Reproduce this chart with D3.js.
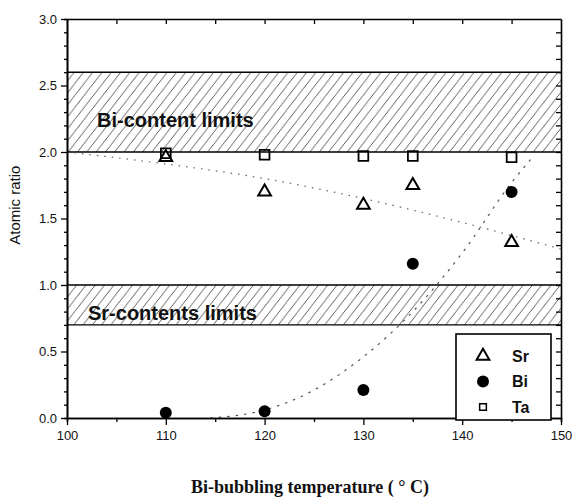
<!DOCTYPE html>
<html>
<head>
<meta charset="utf-8">
<script src="https://cdn.jsdelivr.net/npm/d3@7/dist/d3.min.js"></script>
<style>
  html, body { margin: 0; padding: 0; background: #fff; }
  svg { display: block; }
</style>
</head>
<body>
<div id="chart"></div>
<script>
const temps = [110, 120, 130, 135, 145];
const srValues = [1.96, 1.70, 1.60, 1.75, 1.32];
const biValues = [0.04, 0.05, 0.21, 1.16, 1.70];
const taValues = [1.99, 1.98, 1.97, 1.97, 1.96];

// dotted guide curves
const srFitT = [100, 110, 120, 130, 140, 150];
const srFitV = [2.0, 1.91, 1.80, 1.65, 1.47, 1.27];
const biFitT = [114.5, 120, 125, 130, 135, 140, 145, 147];
const biFitV = [0.0, 0.06, 0.21, 0.46, 0.80, 1.24, 1.77, 1.95];

// shaded limit bands
const bands = [
  {label: "Bi-content limits", lo: 2.0, hi: 2.6},
  {label: "Sr-contents limits", lo: 0.7, hi: 1.0}
];
const legendNames = ["Sr", "Bi", "Ta"];

const width = 572, height = 497;
const margin = {top: 19, right: 11, bottom: 79, left: 67};

const svg = d3.select("#chart").append("svg")
    .attr("width", width)
    .attr("height", height);

const x = d3.scaleLinear().domain([100, 150]).range([margin.left, width - margin.right]);
const y = d3.scaleLinear().domain([0, 3]).range([height - margin.bottom, margin.top]);

// hatch pattern
const defs = svg.append("defs");
const pat = defs.append("pattern")
    .attr("id", "hatch")
    .attr("patternUnits", "userSpaceOnUse")
    .attr("width", 9.3)
    .attr("height", 12);
pat.append("path")
    .attr("d", "M-2.3,15 L11.6,-3")
    .attr("stroke", "#333")
    .attr("stroke-width", 0.8);

const bandG = svg.append("g");
bandG.selectAll("rect")
    .data(bands)
    .enter().append("rect")
    .attr("x", x(100))
    .attr("width", x(150) - x(100))
    .attr("y", d => y(d.hi))
    .attr("height", d => y(d.lo) - y(d.hi))
    .attr("fill", "url(#hatch)")
    .attr("stroke", "none");

bandG.selectAll("line.edge")
    .data(bands.flatMap(d => [d.lo, d.hi]))
    .enter().append("line")
    .attr("class", "edge")
    .attr("x1", x(100)).attr("x2", x(150))
    .attr("y1", d => y(d)).attr("y2", d => y(d))
    .attr("stroke", "#000")
    .attr("stroke-width", 1.4);

bandG.selectAll("text")
    .data(bands)
    .enter().append("text")
    .attr("x", (d, i) => i === 0 ? 97 : 88)
    .attr("y", (d, i) => i === 0 ? y(2.2) + 2 : y(0.74))
    .attr("font-family", "Liberation Sans, Arial, sans-serif")
    .attr("font-weight", "bold")
    .attr("font-size", 20)
    .attr("fill", "#111")
    .text(d => d.label);

// guide curves
const fitLine = d3.line()
    .x(d => x(d[0]))
    .y(d => y(d[1]))
    .curve(d3.curveMonotoneX);

svg.append("path")
    .attr("d", fitLine(d3.zip(srFitT, srFitV)))
    .attr("fill", "none")
    .attr("stroke", "#666")
    .attr("stroke-width", 1.2)
    .attr("stroke-dasharray", "1.5,6");

svg.append("path")
    .attr("d", fitLine(d3.zip(biFitT, biFitV)))
    .attr("fill", "none")
    .attr("stroke", "#555")
    .attr("stroke-width", 1.2)
    .attr("stroke-dasharray", "2.5,6");

// axes
const axisFont = g => g
    .attr("font-family", "Liberation Sans, Arial, sans-serif")
    .attr("font-size", 13)
    .call(g => g.selectAll("text").attr("fill", "#111"))
    .call(g => g.select(".domain").attr("stroke-width", 1.6))
    .call(g => g.selectAll(".tick line").attr("stroke-width", 1.3));

svg.append("g")
    .attr("transform", `translate(0,${y(0)})`)
    .call(d3.axisBottom(x).tickValues(d3.range(105, 150, 10)).tickSize(4).tickFormat(""))
    .call(axisFont);
svg.append("g")
    .attr("transform", `translate(0,${y(0)})`)
    .call(d3.axisBottom(x).tickValues(d3.range(100, 151, 10)).tickSize(7).tickSizeOuter(0).tickPadding(6))
    .call(axisFont);

svg.append("g")
    .attr("transform", `translate(0,${y(3)})`)
    .call(d3.axisTop(x).tickValues(d3.range(105, 150, 5)).tickSize(-5).tickSizeOuter(0).tickFormat(""))
    .call(axisFont);

svg.append("g")
    .attr("transform", `translate(${x(100)},0)`)
    .call(d3.axisLeft(y).tickValues(d3.range(0.1, 3, 0.1).filter(v => Math.abs(v * 2 - Math.round(v * 2)) > 0.01)).tickSize(3).tickFormat(""))
    .call(axisFont);
svg.append("g")
    .attr("transform", `translate(${x(100)},0)`)
    .call(d3.axisLeft(y).tickValues(d3.range(0, 3.01, 0.5)).tickSize(6).tickSizeOuter(0).tickPadding(4).tickFormat(d3.format(".1f")))
    .call(axisFont);

svg.append("g")
    .attr("transform", `translate(${x(150)},0)`)
    .call(d3.axisRight(y).tickValues(d3.range(0.1, 3, 0.1)).tickSize(-5).tickSizeOuter(0).tickFormat(""))
    .call(axisFont);

// axis titles
svg.append("text")
    .attr("transform", `translate(20,${y(1.6)}) rotate(-90)`)
    .attr("text-anchor", "middle")
    .attr("font-family", "Liberation Sans, Arial, sans-serif")
    .attr("font-size", 15)
    .attr("fill", "#111")
    .text("Atomic ratio");

svg.append("text")
    .attr("x", 310)
    .attr("y", 493)
    .attr("text-anchor", "middle")
    .attr("font-family", "Liberation Serif, Times New Roman, serif")
    .attr("font-weight", "bold")
    .attr("font-size", 18)
    .attr("fill", "#111")
    .text("Bi-bubbling temperature ( \u00b0 C)");

// markers
const tri = d3.symbol().type(d3.symbolTriangle).size(70);
const sq = d3.symbol().type(d3.symbolSquare).size(95);

const pts = svg.append("g");
pts.selectAll("path.sr")
    .data(d3.zip(temps, srValues))
    .enter().append("path")
    .attr("class", "sr")
    .attr("d", tri)
    .attr("transform", d => `translate(${x(d[0])},${y(d[1])})`)
    .attr("fill", "#fff")
    .attr("stroke", "#000")
    .attr("stroke-width", 2);

pts.selectAll("path.ta")
    .data(d3.zip(temps, taValues))
    .enter().append("path")
    .attr("class", "ta")
    .attr("d", sq)
    .attr("transform", d => `translate(${x(d[0])},${y(d[1])})`)
    .attr("fill", "none")
    .attr("stroke", "#000")
    .attr("stroke-width", 1.8);

pts.selectAll("circle")
    .data(d3.zip(temps, biValues))
    .enter().append("circle")
    .attr("cx", d => x(d[0]))
    .attr("cy", d => y(d[1]))
    .attr("r", 6)
    .attr("fill", "#000");

// legend
const legend = svg.append("g");
legend.append("rect")
    .attr("x", 456).attr("y", 334)
    .attr("width", 95).attr("height", 86)
    .attr("fill", "#fff")
    .attr("stroke", "#000")
    .attr("stroke-width", 1.6);

const rows = legend.selectAll("g.row")
    .data(legendNames)
    .enter().append("g")
    .attr("class", "row")
    .attr("transform", (d, i) => `translate(483,${356 + i * 25.5})`);

rows.filter(d => d === "Sr").append("path")
    .attr("d", tri)
    .attr("fill", "#fff").attr("stroke", "#000").attr("stroke-width", 2);
rows.filter(d => d === "Bi").append("circle")
    .attr("r", 6).attr("fill", "#000");
rows.filter(d => d === "Ta").append("path")
    .attr("d", d3.symbol().type(d3.symbolSquare).size(45))
    .attr("fill", "#fff").attr("stroke", "#000").attr("stroke-width", 1.5);

rows.append("text")
    .attr("x", 29)
    .attr("dy", "0.36em")
    .attr("font-family", "Liberation Sans, Arial, sans-serif")
    .attr("font-weight", "bold")
    .attr("font-size", 16)
    .attr("fill", "#111")
    .text(d => d);
</script>
</body>
</html>
